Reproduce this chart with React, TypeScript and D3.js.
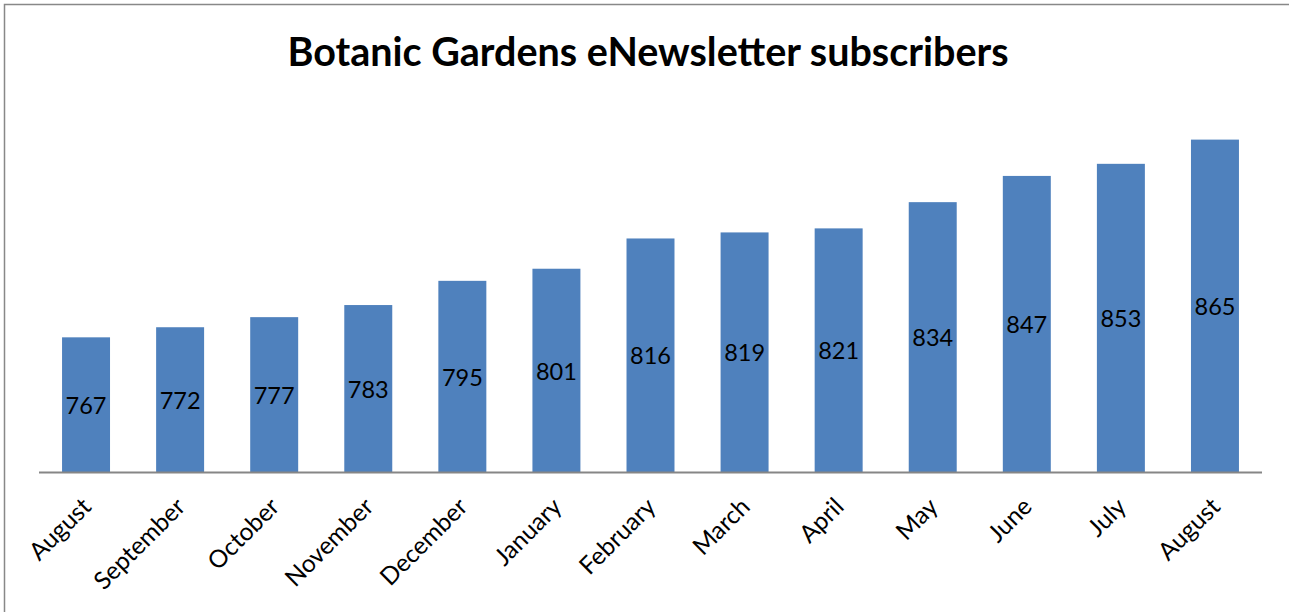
import React from "react";
import * as d3 from "d3";

const months = ["August","September","October","November","December","January","February","March","April","May","June","July","August"];
const subscribers = [767,772,777,783,795,801,816,819,821,834,847,853,865];
const title = "Botanic Gardens eNewsletter subscribers";

const W = 1289, H = 612;
const FONT = "Lato, 'Open Sans', sans-serif";

export default function App() {
  const idx = months.map((_, i) => i);
  const x = d3.scaleBand<number>().domain(idx).range([39, 1262]).paddingInner(0.49).paddingOuter(0.245);
  const y = d3.scaleLinear().domain([700, 900]).range([472.5, 69]);
  const base = y(700);
  return (
    <svg width={W} height={H} style={{ position: "absolute", left: 0, top: 0, background: "#fff" }}>
      <rect x={0} y={0} width={W} height={H} fill="#fff" />
      <path d={`M4.5,${H + 5}V4.5H${W + 5}`} fill="none" stroke="#888" strokeWidth={1.5} />
      <text x={648} y={66} textAnchor="middle" fontFamily={FONT} fontWeight="bold" fontSize={39.5} fill="#000">{title}</text>
      {subscribers.map((v, i) => (
        <rect key={"b" + i} x={x(i)} y={y(v)} width={x.bandwidth()} height={base - y(v)} fill="#4F81BD" />
      ))}
      <line x1={39} x2={1262} y1={472.5} y2={472.5} stroke="#868686" strokeWidth={2} />
      {subscribers.map((v, i) => (
        <text key={"v" + i} x={(x(i) as number) + x.bandwidth() / 2} y={(y(v) + base) / 2} textAnchor="middle" dominantBaseline="central" fontFamily={FONT} fontSize={23.5} fill="#000">{v}</text>
      ))}
      {months.map((m, i) => {
        const cx = (x(i) as number) + x.bandwidth() / 2;
        return (
          <text key={"m" + i} transform={`translate(${cx},${base + 29}) rotate(-45)`} textAnchor="end" dominantBaseline="central" fontFamily={FONT} fontSize={24.5} fill="#000">{m}</text>
        );
      })}
    </svg>
  );
}
